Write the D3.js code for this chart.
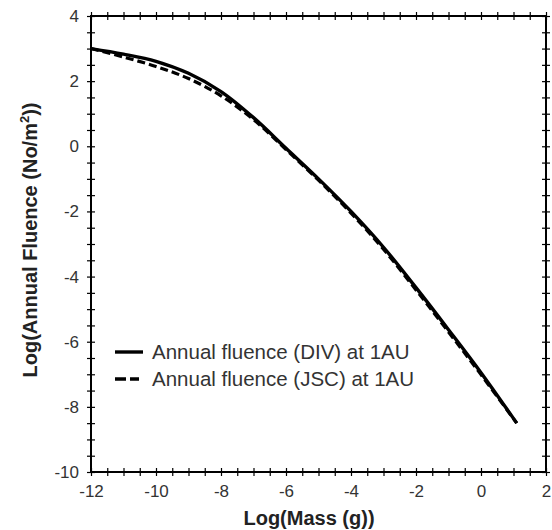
<!DOCTYPE html>
<html>
<head>
<meta charset="utf-8">
<script src="https://cdn.jsdelivr.net/npm/d3@7"></script>
<style>
  html, body { margin: 0; padding: 0; background: #fff; }
  svg { display: block; }
</style>
</head>
<body>
<svg id="chart" width="552" height="530"></svg>
<script>
// ---- data ----
const massLog    = [-12, -11, -10, -9, -8, -7, -6, -5, -4, -3, -2, -1, 0, 1.1];
const fluenceDIV = [3.0, 2.83, 2.61, 2.24, 1.68, 0.88, -0.06, -1.0, -2.0, -3.1, -4.34, -5.63, -6.95, -8.5];
const fluenceJSC = [3.0, 2.74, 2.45, 2.08, 1.55, 0.82, -0.1, -1.04, -2.05, -3.16, -4.41, -5.7, -7.01, -8.5];
const xTickLabels = [-12, -10, -8, -6, -4, -2, 0, 2];
const yTickLabels = [-10, -8, -6, -4, -2, 0, 2, 4];
const seriesNames = ["Annual fluence (DIV) at 1AU", "Annual fluence (JSC) at 1AU"];

const svg = d3.select("#chart");
const pL = 91, pR = 546, pT = 16, pB = 472;
const FONT = "'Liberation Sans', Arial, sans-serif";

const x = d3.scaleLinear().domain([-12, 2]).range([pL, pR]);
const y = d3.scaleLinear().domain([-10, 4]).range([pB, pT]);

const minorX = d3.range(-12, 2.001, 0.5);
const minorY = d3.range(-10, 4.001, 0.5);
const TK = 4;
const fmt = d => String(d);

function crossTicks(g, vertical) {
  g.select(".domain").remove();
  g.selectAll(".tick line")
    .attr("stroke", "#000").attr("stroke-width", 1.2)
    .attr(vertical ? "x1" : "y1", -TK).attr(vertical ? "x2" : "y2", TK);
  g.selectAll(".tick text").remove();
}

// minor/major ticks on all four sides
svg.append("g").attr("transform", `translate(0,${pB})`)
  .call(d3.axisBottom(x).tickValues(minorX).tickSize(TK)).call(g => crossTicks(g, false));
svg.append("g").attr("transform", `translate(0,${pT})`)
  .call(d3.axisTop(x).tickValues(minorX).tickSize(TK)).call(g => crossTicks(g, false));
svg.append("g").attr("transform", `translate(${pL},0)`)
  .call(d3.axisLeft(y).tickValues(minorY).tickSize(TK)).call(g => crossTicks(g, true));
svg.append("g").attr("transform", `translate(${pR},0)`)
  .call(d3.axisRight(y).tickValues(minorY).tickSize(TK)).call(g => crossTicks(g, true));

// tick labels
const xl = svg.append("g").attr("transform", `translate(0,${pB})`)
  .call(d3.axisBottom(x).tickValues(xTickLabels).tickSize(0).tickPadding(13).tickFormat(fmt));
xl.select(".domain").remove();
xl.selectAll("text").attr("font-family", FONT)
  .attr("font-size", 17).attr("fill", "#333");

const yl = svg.append("g").attr("transform", `translate(${pL},0)`)
  .call(d3.axisLeft(y).tickValues(yTickLabels).tickSize(0).tickPadding(12).tickFormat(fmt));
yl.select(".domain").remove();
yl.selectAll("text").attr("font-family", FONT)
  .attr("font-size", 17).attr("fill", "#333");

// frame
svg.append("rect")
  .attr("x", pL).attr("y", pT)
  .attr("width", pR - pL).attr("height", pB - pT)
  .attr("fill", "none").attr("stroke", "#000").attr("stroke-width", 2);

// lines
const line = d3.line().x(d => x(d[0])).y(d => y(d[1])).curve(d3.curveCatmullRom.alpha(0.5));
svg.append("path")
  .datum(massLog.map((m, i) => [m, fluenceJSC[i]]))
  .attr("d", line).attr("fill", "none").attr("stroke", "#000")
  .attr("stroke-width", 3.2).attr("stroke-dasharray", "8,4");
svg.append("path")
  .datum(massLog.map((m, i) => [m, fluenceDIV[i]]))
  .attr("d", line).attr("fill", "none").attr("stroke", "#000")
  .attr("stroke-width", 3.4);

// legend
const legY = [352, 379];
seriesNames.forEach((name, i) => {
  svg.append("line")
    .attr("x1", 115).attr("x2", i === 1 ? 139 : 143).attr("y1", legY[i]).attr("y2", legY[i])
    .attr("stroke", "#000").attr("stroke-width", 3.4)
    .attr("stroke-dasharray", i === 1 ? "11,4" : null);
  svg.append("text")
    .attr("x", 152).attr("y", legY[i]).attr("dy", "0.35em")
    .attr("font-family", FONT)
    .attr("font-size", 20.5).attr("fill", "#333")
    .text(name);
});

// axis titles
svg.append("text")
  .attr("x", 309).attr("y", 525)
  .attr("text-anchor", "middle")
  .attr("font-family", FONT)
  .attr("font-size", 20).attr("font-weight", "bold").attr("fill", "#222")
  .text("Log(Mass (g))");

const yt = svg.append("text")
  .attr("transform", `translate(37,240) rotate(-90)`)
  .attr("text-anchor", "middle")
  .attr("font-family", FONT)
  .attr("font-size", 20).attr("font-weight", "bold").attr("fill", "#222");
yt.append("tspan").text("Log(Annual Fluence (No/m");
yt.append("tspan").attr("font-size", 13).attr("dy", -8).text("2");
yt.append("tspan").attr("dy", 8).text("))");
</script>
</body>
</html>
